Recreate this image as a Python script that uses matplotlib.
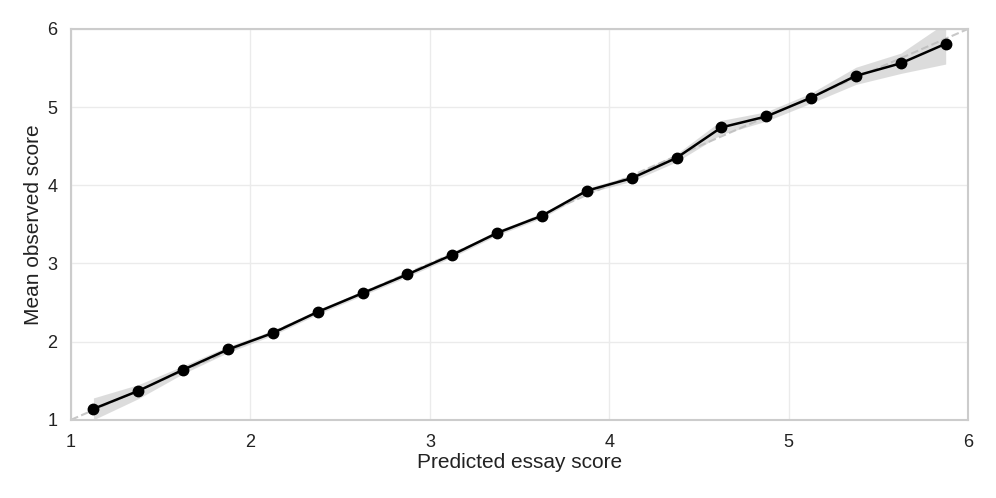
import numpy as np
import matplotlib.pyplot as plt
import seaborn as sns

# binned predicted score vs observed mean, with 95% band
pred = [1.125, 1.375, 1.625, 1.875, 2.125, 2.375, 2.625, 2.875, 3.125, 3.375,
        3.625, 3.875, 4.125, 4.375, 4.625, 4.875, 5.125, 5.375, 5.625, 5.875]
observed = [1.14, 1.37, 1.64, 1.90, 2.11, 2.38, 2.62, 2.86, 3.11, 3.39,
            3.61, 3.93, 4.09, 4.35, 4.74, 4.88, 5.12, 5.40, 5.56, 5.81]
lower = [1.00, 1.27, 1.59, 1.86, 2.08, 2.35, 2.59, 2.83, 3.08, 3.36,
         3.58, 3.90, 4.05, 4.30, 4.65, 4.82, 5.05, 5.29, 5.43, 5.55]
upper = [1.28, 1.45, 1.69, 1.94, 2.14, 2.41, 2.65, 2.89, 3.14, 3.42,
         3.64, 3.96, 4.13, 4.40, 4.83, 4.94, 5.18, 5.51, 5.69, 6.08]

sns.set_theme(style="whitegrid")
plt.rcParams['font.family'] = ['Liberation Sans', 'DejaVu Sans']

fig = plt.figure(figsize=(9.96, 4.98), dpi=100)
ax = fig.add_axes([0.0713, 0.157, 0.9007, 0.785])

ax.plot([1, 6], [1, 6], linestyle='--', color='#c8c8c8', linewidth=1.5, zorder=1)
ax.fill_between(pred, lower, upper, color='#bbbbbb', alpha=0.5, linewidth=0, zorder=2)
ax.plot(pred, observed, color='black', linewidth=1.8, marker='o', markersize=7.5, zorder=3)

ax.set_xlim(1, 6)
ax.set_ylim(1, 6)
ax.set_xticks([1, 2, 3, 4, 5, 6])
ax.set_yticks([1, 2, 3, 4, 5, 6])
ax.tick_params(labelsize=13, pad=4, labelcolor='#222222')
ax.set_xlabel("Predicted essay score", fontsize=15, labelpad=2, color='#222222')
ax.set_ylabel("Mean observed score", fontsize=15, labelpad=3, color='#222222')
ax.grid(color='#ebebeb', linewidth=1)
for s in ax.spines.values():
    s.set_color('#cccccc')
    s.set_linewidth(1.5)

fig.savefig("out.png", dpi=100)
